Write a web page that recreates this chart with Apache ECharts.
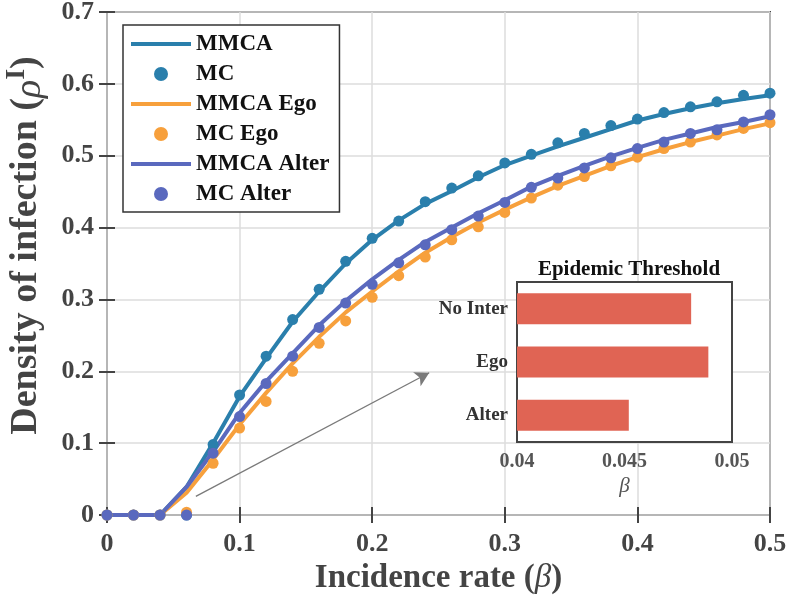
<!DOCTYPE html>
<html>
<head>
<meta charset="utf-8">
<script src="https://cdn.jsdelivr.net/npm/echarts@6/dist/echarts.min.js"></script>
<style>html,body{margin:0;padding:0;background:#fff}#c{width:787px;height:601px}</style>
</head>
<body>
<div id="c"></div>
<script>
const beta = [0,0.02,0.04,0.06,0.08,0.10,0.12,0.14,0.16,0.18,0.20,0.22,0.24,0.26,0.28,0.30,0.32,0.34,0.36,0.38,0.40,0.42,0.44,0.46,0.48,0.50];
const mmca      = [0,0,0,0.039,0.100,0.165,0.218,0.269,0.311,0.350,0.383,0.410,0.433,0.451,0.470,0.487,0.500,0.513,0.525,0.537,0.549,0.558,0.566,0.573,0.579,0.584];
const mc        = [0,0,0,0,0.098,0.167,0.221,0.272,0.314,0.353,0.385,0.409,0.436,0.455,0.472,0.490,0.502,0.518,0.531,0.542,0.551,0.560,0.568,0.575,0.584,0.587];
const mmcaEgo   = [0,0,0,0.031,0.077,0.126,0.170,0.211,0.248,0.282,0.311,0.339,0.365,0.387,0.407,0.425,0.442,0.458,0.472,0.486,0.498,0.509,0.519,0.528,0.537,0.545];
const mcEgo     = [0,0,0,0.004,0.072,0.121,0.158,0.200,0.239,0.270,0.303,0.333,0.359,0.383,0.401,0.421,0.441,0.459,0.471,0.486,0.498,0.510,0.519,0.529,0.538,0.546];
const mmcaAlter = [0,0,0,0.039,0.088,0.142,0.186,0.225,0.264,0.298,0.328,0.355,0.380,0.400,0.420,0.438,0.457,0.472,0.486,0.499,0.511,0.522,0.531,0.540,0.547,0.555];
const mcAlter   = [0,0,0,0,0.086,0.137,0.183,0.221,0.261,0.295,0.321,0.351,0.376,0.397,0.416,0.435,0.456,0.469,0.483,0.497,0.510,0.519,0.531,0.536,0.547,0.557];

const insetCategories = ['No Inter','Ego','Alter'];
const insetThreshold  = [0.0481,0.0489,0.0452];

const arrowStart = [0.067, 0.026];
const arrowEnd   = [0.243, 0.198];

const pairs = v => beta.map((b,i)=>[b,v[i]]);
const C1='#2A7FAC', C2='#F7A03C', C3='#5A69BE', BAR='#E06454';
const serif = '"Liberation Serif","Times New Roman",serif';
const axCol = '#444';
const LINE_ICON = 'path://M0 0H60V4H0Z';

const chart = echarts.init(document.getElementById('c'));
const lineS = (name,data,color,extra) => Object.assign({name,type:'line',data:pairs(data),xAxisIndex:0,yAxisIndex:0,symbol:'none',showSymbol:false,lineStyle:{color,width:4},itemStyle:{color},z:3},extra||{});
const dotS = (name,data,color) => ({name,type:'scatter',data:pairs(data),xAxisIndex:0,yAxisIndex:0,symbol:'circle',symbolSize:11,itemStyle:{color,opacity:1},z:4});

chart.setOption({
  animation:false,
  backgroundColor:'#fff',
  grid:[
    {left:107,right:17,top:12,bottom:86,outerBoundsMode:'none',containLabel:false,show:true,borderColor:axCol,borderWidth:2,backgroundColor:'transparent'},
    {left:517,top:282,width:215,height:160,outerBoundsMode:'none',containLabel:false,show:true,backgroundColor:'#fff',borderColor:axCol,borderWidth:2,z:10}
  ],
  title:{text:'Epidemic Threshold',left:624,top:254,textAlign:'center',textStyle:{fontFamily:serif,fontWeight:'bold',fontSize:21,color:'#111'},z:12},
  legend:{
    left:123,top:25,orient:'vertical',padding:[7,10,6,8],itemGap:6,itemWidth:60,itemHeight:14,symbolKeepAspect:true,
    borderColor:'#333',borderWidth:1.5,backgroundColor:'#fff',
    textStyle:{fontFamily:serif,fontWeight:'bold',fontSize:23,color:'#111',lineHeight:24},
    data:[
      {name:'MMCA',icon:LINE_ICON,itemStyle:{color:C1}},
      {name:'MC',icon:'circle',itemStyle:{color:C1}},
      {name:'MMCA Ego',icon:LINE_ICON,itemStyle:{color:C2}},
      {name:'MC Ego',icon:'circle',itemStyle:{color:C2}},
      {name:'MMCA Alter',icon:LINE_ICON,itemStyle:{color:C3}},
      {name:'MC Alter',icon:'circle',itemStyle:{color:C3}}
    ],z:20
  },
  xAxis:[
    {type:'value',gridIndex:0,min:0,max:0.5,interval:0.1,
     axisLine:{show:false},axisTick:{inside:true,length:8,lineStyle:{color:axCol,width:2}},
     axisLabel:{margin:16,fontFamily:serif,fontWeight:'bold',fontSize:26,color:axCol},
     splitLine:{lineStyle:{color:'#dcdcdc',width:1.5}},
     name:'Incidence rate ({b|β})',nameLocation:'middle',nameGap:46,
     nameTextStyle:{fontFamily:serif,fontWeight:'bold',fontSize:33,color:axCol,rich:{b:{fontFamily:serif,fontStyle:'italic',fontWeight:'normal',fontSize:33,color:axCol}}}},
    {type:'value',gridIndex:0,position:'top',min:0,max:0.5,interval:0.1,
     axisLine:{show:false},axisTick:{inside:true,length:8,lineStyle:{color:axCol,width:2}},
     axisLabel:{show:false},splitLine:{show:false}},
    {type:'value',gridIndex:1,min:0.04,max:0.05,interval:0.005,z:12,
     axisLine:{show:false},axisTick:{inside:true,length:5,lineStyle:{color:axCol,width:1.5}},
     axisLabel:{margin:10,fontFamily:serif,fontWeight:'bold',fontSize:20,color:'#555'},
     splitLine:{show:false},
     name:'β',nameLocation:'middle',nameGap:34,
     nameTextStyle:{fontFamily:serif,fontStyle:'italic',fontSize:21,color:'#555'}},
    {type:'value',gridIndex:1,position:'top',min:0.04,max:0.05,interval:0.005,z:12,
     axisLine:{show:false},axisTick:{inside:true,length:5,lineStyle:{color:axCol,width:1.5}},
     axisLabel:{show:false},splitLine:{show:false}}
  ],
  yAxis:[
    {type:'value',gridIndex:0,min:0,max:0.7,interval:0.1,
     axisLine:{show:false},axisTick:{inside:true,length:8,lineStyle:{color:axCol,width:2}},
     axisLabel:{margin:13,fontFamily:serif,fontWeight:'bold',fontSize:26,color:axCol},
     splitLine:{lineStyle:{color:'#dcdcdc',width:1.5}},
     name:'Density of infection ({r|ρ}{s|I})',nameLocation:'middle',nameGap:58,
     nameTextStyle:{fontFamily:serif,fontWeight:'bold',fontSize:38,color:axCol,lineHeight:46,padding:[0,0,0,36],
       rich:{r:{fontFamily:serif,fontStyle:'italic',fontWeight:'normal',fontSize:38,color:axCol,lineHeight:46,verticalAlign:'bottom'},
             s:{fontFamily:serif,fontWeight:'bold',fontSize:28,color:axCol,lineHeight:46,verticalAlign:'top'}}}},
    {type:'value',gridIndex:0,position:'right',min:0,max:0.7,interval:0.1,
     axisLine:{show:false},axisTick:{inside:true,length:8,lineStyle:{color:axCol,width:2}},
     axisLabel:{show:false},splitLine:{show:false}},
    {type:'category',gridIndex:1,data:insetCategories,inverse:true,z:12,
     axisLine:{show:false},axisTick:{inside:true,alignWithLabel:true,length:5,lineStyle:{color:axCol,width:1.5}},
     axisLabel:{margin:9,fontFamily:serif,fontWeight:'bold',fontSize:19,color:'#333'}},
    {type:'category',gridIndex:1,data:insetCategories,inverse:true,position:'right',z:12,
     axisLine:{show:false},axisTick:{inside:true,alignWithLabel:true,length:5,lineStyle:{color:axCol,width:1.5}},
     axisLabel:{show:false}}
  ],
  series:[
    lineS('MMCA',mmca,C1,{markLine:{silent:true,symbol:['none','arrow'],symbolSize:[12,14],label:{show:false},
       lineStyle:{color:'#7a7a7a',width:1.3,type:'solid'},
       data:[[{coord:arrowStart},{coord:arrowEnd}]]}}),
    dotS('MC',mc,C1),
    lineS('MMCA Ego',mmcaEgo,C2),
    dotS('MC Ego',mcEgo,C2),
    lineS('MMCA Alter',mmcaAlter,C3),
    dotS('MC Alter',mcAlter,C3),
    {name:'Threshold',type:'bar',xAxisIndex:2,yAxisIndex:2,data:insetThreshold,barWidth:31,itemStyle:{color:BAR},z:12}
  ]
});
</script>
</body>
</html>
